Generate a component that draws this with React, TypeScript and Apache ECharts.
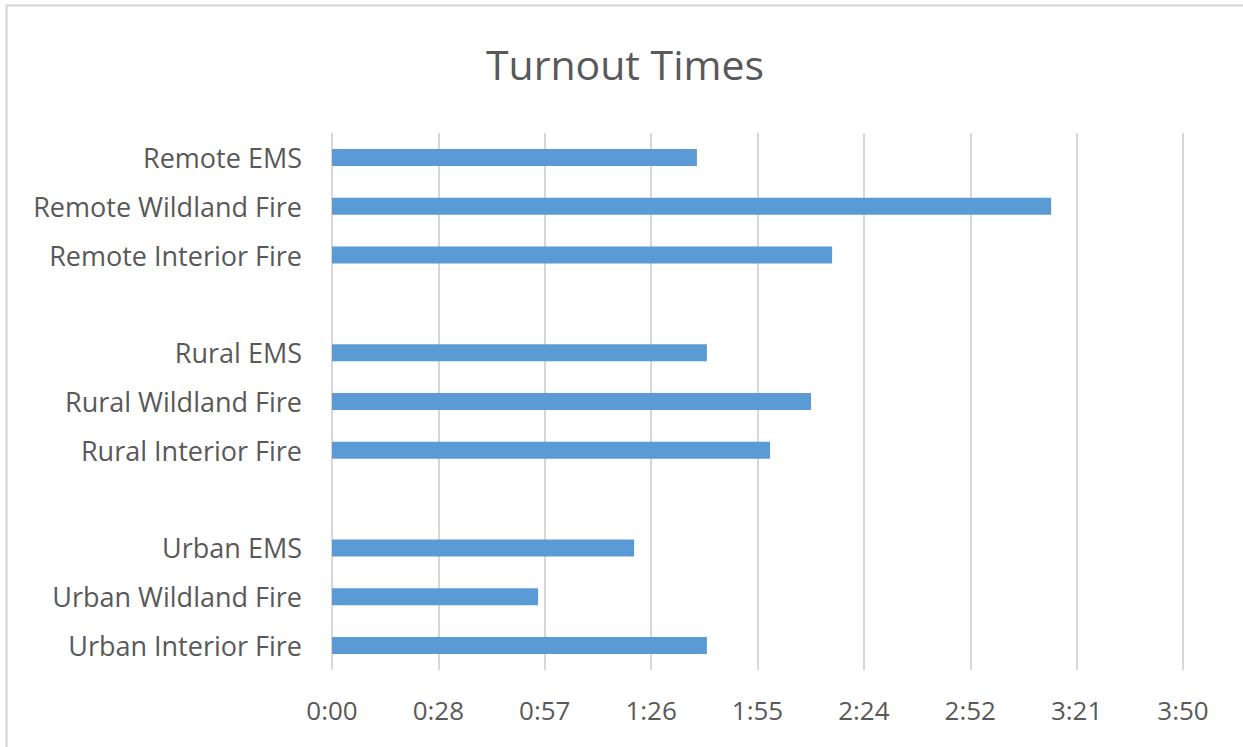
import React, { useEffect, useRef } from "react";
import * as echarts from "echarts";

// Categories top to bottom; empty strings leave the spacer rows between groups
const categories: string[] = [
  "Remote EMS",
  "Remote Wildland Fire",
  "Remote Interior Fire",
  "",
  "Rural EMS",
  "Rural Wildland Fire",
  "Rural Interior Fire",
  "",
  "Urban EMS",
  "Urban Wildland Fire",
  "Urban Interior Fire",
];

// Turnout time in seconds for each category (null for spacer rows)
const turnoutSeconds: (number | null)[] = [
  98.8, 194.7, 135.4, null, 101.5, 129.7, 118.6, null, 81.8, 55.8, 101.5,
];

// Axis: 0:00 to 3:50 in steps of 28.8 s
const axisMin = 0;
const axisMax = 230.4;
const axisStep = 28.8;

const FONT = "'Open Sans', sans-serif";

function formatMinSec(v: number): string {
  const s = Math.round(v * 1000) / 1000;
  const m = Math.floor(s / 60);
  const sec = Math.floor(s - m * 60 + 1e-6);
  return m + ":" + (sec < 10 ? "0" : "") + sec;
}

export default function App() {
  const ref = useRef<HTMLDivElement>(null);

  useEffect(() => {
    if (!ref.current) return;
    const chart = echarts.init(ref.current, null, { renderer: "svg" });
    chart.setOption({
      animation: false,
      backgroundColor: "#ffffff",
      title: {
        text: "Turnout Times",
        left: 620,
        top: 38,
        textAlign: "center",
        textStyle: {
          fontFamily: FONT,
          fontSize: 41,
          fontWeight: "normal",
          color: "#595959",
        },
      },
      graphic: [
        {
          type: "rect",
          shape: { x: 6.5, y: 5.5, width: 1300, height: 800 },
          style: { fill: "none", stroke: "#d4d4d4", lineWidth: 2 },
          silent: true,
        },
      ],
      grid: { left: 332, right: 60, top: 133, bottom: 77, containLabel: false },
      xAxis: {
        type: "value",
        min: axisMin,
        max: axisMax,
        interval: axisStep,
        axisLine: { show: false },
        axisTick: { show: false },
        splitLine: { show: true, lineStyle: { color: "#d3d3d3", width: 1.8 } },
        axisLabel: {
          formatter: (v: number) => formatMinSec(v),
          margin: 27,
          fontFamily: FONT,
          fontSize: 26,
          color: "#595959",
        },
      },
      yAxis: {
        type: "category",
        inverse: true,
        data: categories,
        axisLine: { show: false },
        axisTick: { show: false },
        splitLine: { show: false },
        axisLabel: {
          margin: 30,
          fontFamily: FONT,
          fontSize: 27,
          color: "#595959",
        },
      },
      series: [
        {
          type: "bar",
          data: turnoutSeconds,
          barWidth: 17,
          itemStyle: { color: "#5b9bd5" },
        },
      ],
    });
    return () => chart.dispose();
  }, []);

  return (
    <div
      ref={ref}
      style={{ position: "absolute", left: 0, top: 0, width: 1243, height: 747 }}
    />
  );
}
